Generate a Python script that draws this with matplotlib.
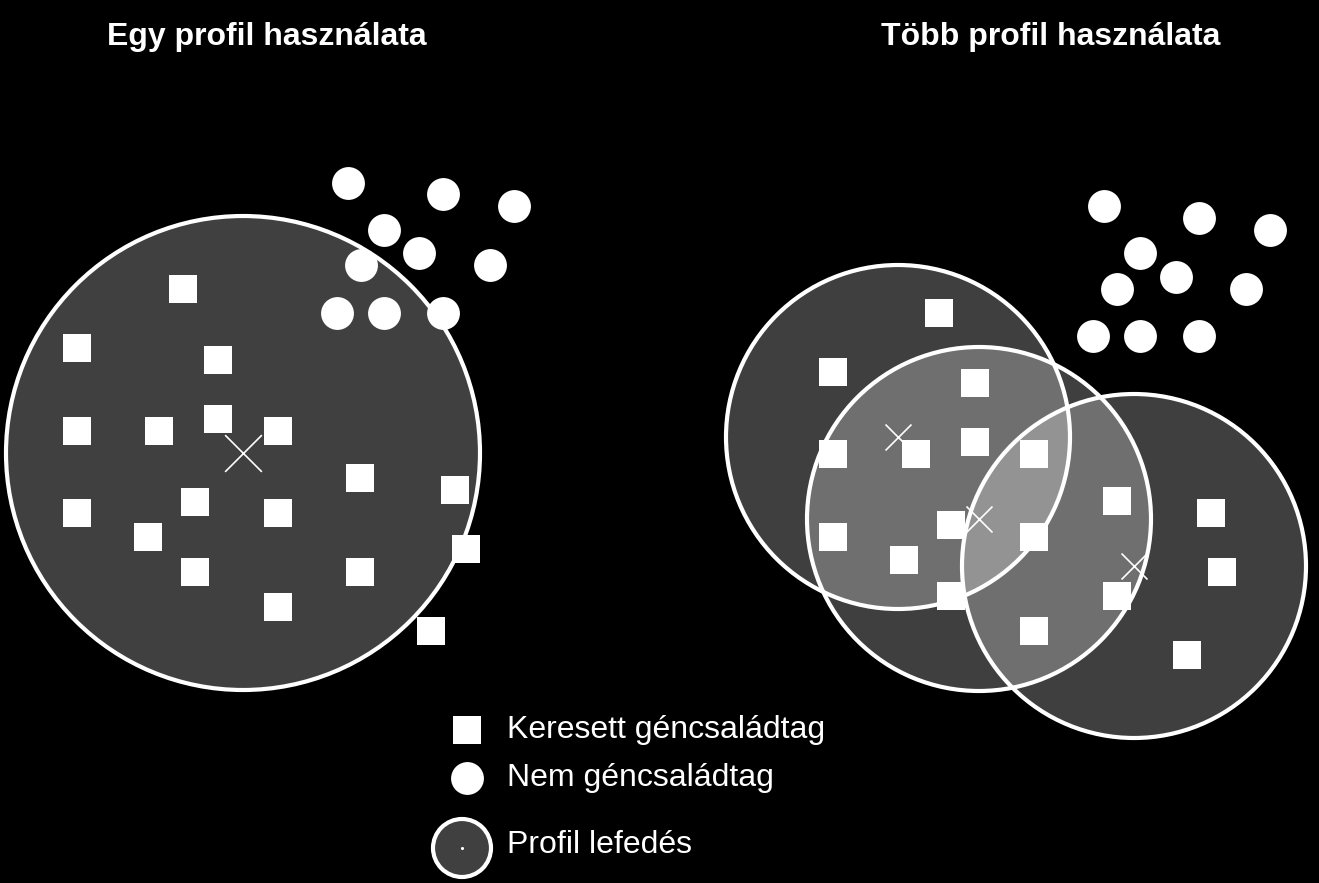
import matplotlib.pyplot as plt
from matplotlib.patches import Circle

plt.rcParams['font.family'] = ['Liberation Sans', 'DejaVu Sans']

# left panel: one profile
left_center = (243, 453)
left_radius = 237
left_sq_x = [183, 77, 218, 77, 159, 218, 278, 77, 195, 148, 278, 360, 455, 466, 195, 360, 278, 431]
left_sq_y = [289, 348, 360, 431, 431, 419, 431, 513, 502, 537, 513, 478, 490, 549, 572, 572, 607, 631]
left_dot_x = [348, 443, 514, 384, 419, 361, 490, 337, 384, 443]
left_dot_y = [183, 194, 206, 230, 253, 265, 265, 313, 313, 313]

# right panel: several profiles
right_centers = [(898, 437), (979, 519), (1134, 566)]
right_radius = 172
right_sq_x = [939, 833, 975, 975, 833, 916, 1034, 1117, 1211, 951, 833, 1034, 904, 1222, 951, 1117, 1034, 1187]
right_sq_y = [313, 372, 383, 442, 454, 454, 454, 501, 513, 525, 537, 537, 560, 572, 596, 596, 631, 655]
right_dot_x = [1104, 1199, 1270, 1140, 1176, 1117, 1246, 1093, 1140, 1199]
right_dot_y = [206, 218, 230, 253, 277, 289, 289, 336, 336, 336]

titles = ['Egy profil használata', 'Több profil használata']
legend_labels = ['Keresett géncsaládtag', 'Nem géncsaládtag', 'Profil lefedés']

fig = plt.figure(figsize=(13.19, 8.83), dpi=100, facecolor='black')
ax = fig.add_axes([0, 0, 1, 1])
ax.set_facecolor('black')
ax.set_xlim(0, 1319)
ax.set_ylim(883, 0)
ax.axis('off')

ax.add_patch(Circle(left_center, left_radius, facecolor='#404040', edgecolor='white', lw=3, zorder=1))
for c in right_centers:
    ax.add_patch(Circle(c, right_radius, facecolor=(1, 1, 1, 0.25), edgecolor='none', zorder=1))
for c in right_centers:
    ax.add_patch(Circle(c, right_radius, facecolor='none', edgecolor='white', lw=3, zorder=2))

for sx, sy, dx, dy in [(left_sq_x, left_sq_y, left_dot_x, left_dot_y),
                       (right_sq_x, right_sq_y, right_dot_x, right_dot_y)]:
    ax.scatter(sx, sy, marker='s', s=380, color='white', zorder=3, linewidths=0)
    ax.scatter(dx, dy, marker='o', s=560, color='white', zorder=3, linewidths=0)

ax.scatter([left_center[0]], [left_center[1]], marker='x', s=700, color='white', linewidths=1.2, zorder=3)
ax.scatter([c[0] for c in right_centers], [c[1] for c in right_centers],
           marker='x', s=350, color='white', linewidths=1.2, zorder=3)

ax.text(267, 37, titles[0], color='white', fontsize=23, fontweight='bold', ha='center', va='center')
ax.text(1051, 37, titles[1], color='white', fontsize=23, fontweight='bold', ha='center', va='center')

# legend
ax.scatter([467], [730], marker='s', s=380, color='white', linewidths=0)
ax.scatter([467], [778], marker='o', s=560, color='white', linewidths=0)
ax.add_patch(Circle((462, 848), 29, facecolor='#404040', edgecolor='white', lw=3))
ax.scatter([462], [848], marker='.', s=6, color='white')
for y, lab in zip([730, 778, 845], legend_labels):
    ax.text(507, y, lab, color='white', fontsize=23, ha='left', va='center')

fig.savefig('out.png', dpi=100, facecolor='black')
